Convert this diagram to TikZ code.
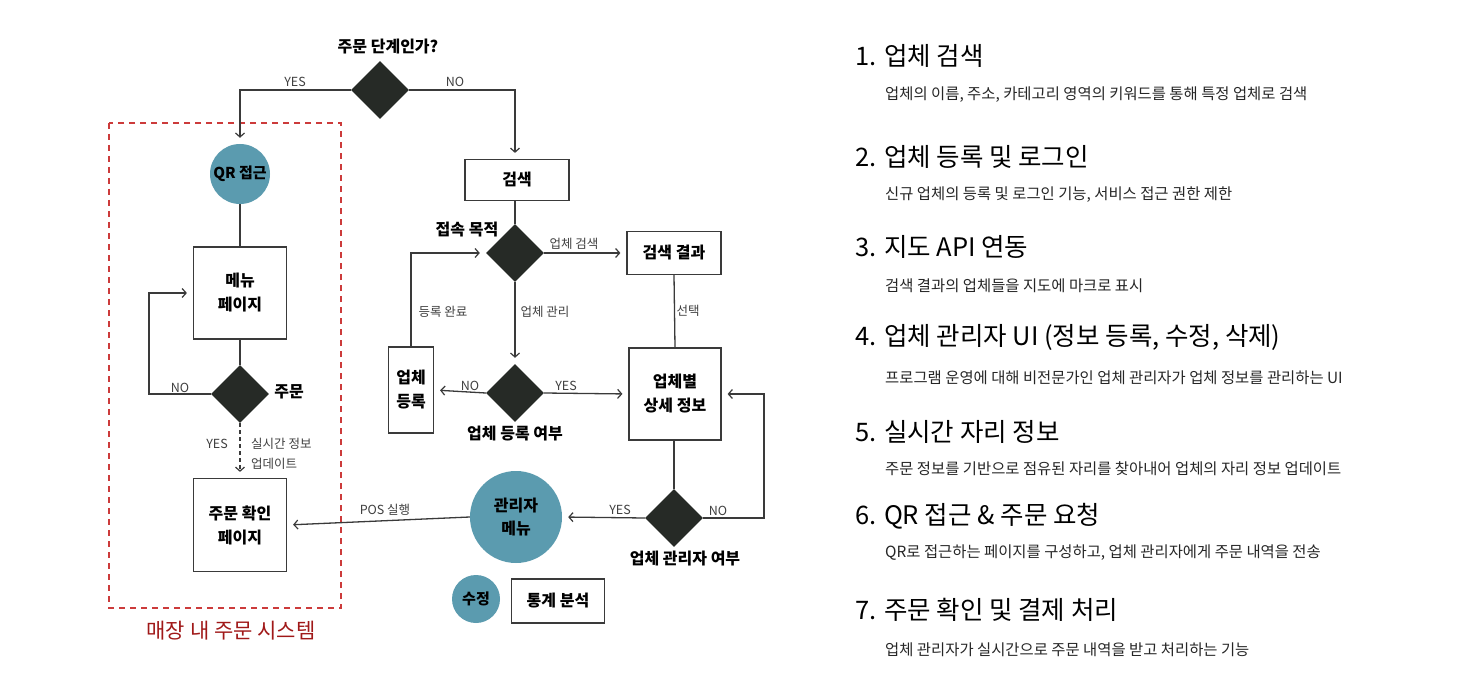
\documentclass[tikz,border=0pt]{standalone}
\usepackage{fontspec}
\setmainfont{Noto Sans CJK KR}
\usetikzlibrary{shapes.geometric,arrows.meta}
\definecolor{linec}{HTML}{3A3A3A}
\definecolor{diafill}{HTML}{262A26}
\definecolor{tealc}{HTML}{5B9BAF}
\definecolor{dashred}{HTML}{CC3B3B}
\definecolor{darkred}{HTML}{A01818}
\tikzset{
  conn/.style={draw=linec, line width=1.3pt},
  arr/.style={conn, -{Straight Barb[length=4pt,width=9pt,line width=1.2pt]}, shorten >=6pt},
  decision/.style={diamond, fill=diafill, minimum width=58pt, minimum height=58pt, inner sep=0pt},
  tealcirc/.style={circle, fill=tealc, inner sep=0pt, align=center, font=\bfseries\fontsize{15}{23}\selectfont},
  procbox/.style={rectangle, draw=linec, line width=1.2pt, fill=white, inner sep=0pt, align=center, font=\bfseries\fontsize{16}{24}\selectfont},
  edgelab/.style={font=\fontsize{12.5}{20}\selectfont, text=black!75, inner sep=0pt},
  headlab/.style={font=\bfseries\fontsize{16}{20}\selectfont, inner sep=0pt},
  ititle/.style={anchor=west, font=\fontsize{25.5}{28}\selectfont, inner sep=0pt},
  isub/.style={anchor=west, font=\fontsize{15.4}{18}\selectfont, inner sep=0pt, text=black!85},
}
\begin{document}
\begin{tikzpicture}[x=1pt,y=-1pt]
\useasboundingbox (0,0) rectangle (1472,687);
\fill[white] (0,0) rectangle (1472,687);

% ---------- left: in-store order system ----------
\draw[dashred, line width=2pt, dash pattern=on 6pt off 5pt] (109,123) rectangle (341,608);
\node[font=\fontsize{21}{24}\selectfont, text=darkred] (zonelab) at (231,631) {매장 내 주문 시스템};

\node[decision] (d1) at (380,90) {};
\node[headlab] (d1lab) at (388,47) {주문 단계인가?};

\node[tealcirc, minimum size=60pt] (qr) at (240,174) {QR 접근};
\node[procbox, minimum width=93pt, minimum height=92pt] (menu) at (240,293) {메뉴\\페이지};
\node[decision] (d2) at (240,394) {};
\node[headlab] (d2lab) at (289,392) {주문};
\node[procbox, minimum width=93pt, minimum height=93pt] (conf) at (240,525) {주문 확인\\페이지};
\coordinate (c1) at (149,394);

% ---------- middle ----------
\node[procbox, minimum width=104pt, minimum height=41pt] (search) at (517,180) {검색};
\node[decision] (d3) at (515,253) {};
\node[headlab] (d3lab) at (467,230) {접속 목적};
\node[procbox, minimum width=94pt, minimum height=43pt] (result) at (674,253) {검색 결과};
\node[decision] (d4) at (515,393) {};
\node[headlab] (d4lab) at (515,434) {업체 등록 여부};
\node[procbox, minimum width=45pt, minimum height=86pt] (reg) at (411,390) {업체\\등록};
\node[procbox, minimum width=92pt, minimum height=92pt] (detail) at (675,394) {업체별\\상세 정보};
\node[decision] (d5) at (674,518) {};
\node[headlab] (d5lab) at (685,559) {업체 관리자 여부};
\node[tealcirc, minimum size=92pt, font=\bfseries\fontsize{16}{23}\selectfont] (adm) at (516,517) {관리자\\메뉴};
\node[tealcirc, minimum size=48pt] (fix) at (476,599) {수정};
\node[procbox, minimum width=93pt, minimum height=44pt] (stat) at (558,601) {통계 분석};
\coordinate (c2) at (764,518);

% ---------- connectors ----------
\draw[arr] (d1.west) -| (qr.north);
\draw[arr] (d1.east) -| (search.north -| d3.north);
\draw[conn] (qr.south) -- (menu.north);
\draw[conn] (menu.south) -- (d2.north);
\draw[arr] (d2.west) -- (c1) |- (menu.west);
\draw[arr, dashed, dash pattern=on 4pt off 3pt] (d2.south) -- (conf.north);
\draw[arr] (adm.west) -- (conf.east);
\draw[conn] (search.south -| d3.north) -- (d3.north);
\draw[arr] (d3.east) -- (result.west);
\draw[arr] (d3.south) -- (d4.north);
\draw[arr] (d4.west) -- (reg.east);
\draw[arr] (d4.east) -- (detail.west);
\draw[arr] (reg.north) |- (d3.west);
\draw[conn] (result.south) -- (detail.north);
\draw[conn] (detail.south -| d5.north) -- (d5.north);
\draw[arr] (d5.west) -- (adm.east);
\draw[arr] (d5.east) -- (c2) |- (detail.east);

% ---------- connector labels ----------
\node[edgelab] (l1) at (295,82) {YES};
\node[edgelab] (l2) at (455,82) {NO};
\node[edgelab] (l3) at (180,388) {NO};
\node[edgelab] (l4) at (217,444) {YES};
\node[edgelab, anchor=west, align=left] (l5) at (251,454) {실시간 정보\\업데이트};
\node[edgelab] (l6) at (385,510) {POS 실행};
\node[edgelab] (l7) at (574,244) {업체 검색};
\node[edgelab] (l8) at (545,312) {업체 관리};
\node[edgelab] (l9) at (443,312) {등록 완료};
\node[edgelab] (l10) at (688,311) {선택};
\node[edgelab] (l11) at (470,386) {NO};
\node[edgelab] (l12) at (566,386) {YES};
\node[edgelab] (l13) at (620,510) {YES};
\node[edgelab] (l14) at (718,511) {NO};

% ---------- right: feature list ----------
\node[ititle] (t1) at (855,56) {1. 업체 검색};
\node[isub] (s1) at (885,95) {업체의 이름, 주소, 카테고리 영역의 키워드를 통해 특정 업체로 검색};
\node[ititle] (t2) at (855,157) {2. 업체 등록 및 로그인};
\node[isub] (s2) at (885,195) {신규 업체의 등록 및 로그인 기능, 서비스 접근 권한 제한};
\node[ititle] (t3) at (855,247) {3. 지도 API 연동};
\node[isub] (s3) at (885,286) {검색 결과의 업체들을 지도에 마크로 표시};
\node[ititle] (t4) at (855,337) {4. 업체 관리자 UI (정보 등록, 수정, 삭제)};
\node[isub] (s4) at (885,378) {프로그램 운영에 대해 비전문가인 업체 관리자가 업체 정보를 관리하는 UI};
\node[ititle] (t5) at (855,432) {5. 실시간 자리 정보};
\node[isub] (s5) at (885,469) {주문 정보를 기반으로 점유된 자리를 찾아내어 업체의 자리 정보 업데이트};
\node[ititle] (t6) at (855,516) {6. QR 접근 \& 주문 요청};
\node[isub] (s6) at (885,553) {QR로 접근하는 페이지를 구성하고, 업체 관리자에게 주문 내역을 전송};
\node[ititle] (t7) at (855,610) {7. 주문 확인 및 결제 처리};
\node[isub] (s7) at (885,650) {업체 관리자가 실시간으로 주문 내역을 받고 처리하는 기능};
\end{tikzpicture}
\end{document}
